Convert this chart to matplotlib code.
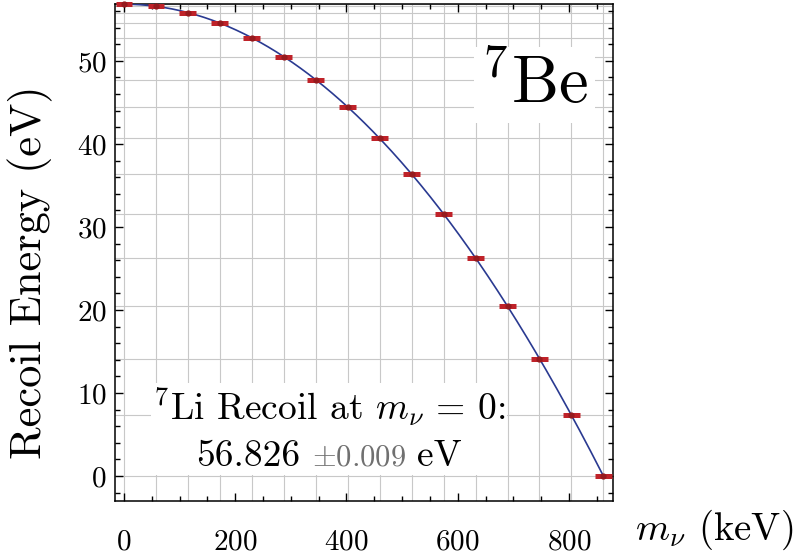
import numpy as np
import matplotlib
matplotlib.use("Agg")
import matplotlib.pyplot as plt
from matplotlib.ticker import MultipleLocator
from matplotlib.offsetbox import TextArea, HPacker, VPacker, AnchoredOffsetbox

plt.rcParams["font.family"] = "serif"
plt.rcParams["font.serif"] = ["cmr10"]
plt.rcParams["mathtext.fontset"] = "cm"
plt.rcParams["axes.formatter.use_mathtext"] = True

# neutrino mass scan (keV) and 7Li recoil energy (eV)
m_nu = [0.0, 57.5, 114.9, 172.4, 229.8, 287.3, 344.7, 402.2,
        459.6, 517.1, 574.5, 632.0, 689.4, 746.9, 804.3, 861.8]
recoil = [56.83, 56.57, 55.82, 54.55, 52.79, 50.51, 47.73, 44.45,
          40.66, 36.37, 31.57, 26.27, 20.46, 14.14, 7.32, 0.0]
m_err = [15.0] * 16

RED = "#bf2229"
BLUE = "#2a3a91"

fig = plt.figure(figsize=(7.99, 5.59), dpi=100)
ax = fig.add_axes([115 / 799, 1 - 501 / 559, 498 / 799, 497 / 559])

# grid lines sit on the scan points
for x in m_nu:
    ax.axvline(x, color="#c8c8c8", lw=0.8, zorder=0)
for y in recoil:
    ax.axhline(y, color="#c8c8c8", lw=0.8, zorder=0)

# quadratic fit through the scan
coef = np.polyfit(m_nu, recoil, 2)
xs = np.linspace(min(m_nu), max(m_nu), 300)
ax.plot(xs, np.polyval(coef, xs), color=BLUE, lw=1.2, zorder=3)

ax.errorbar(m_nu, recoil, xerr=m_err, fmt="o", ms=3.5, color="#961a1e",
            ecolor=RED, elinewidth=3.6, capsize=0, zorder=4, clip_on=False)

ax.set_xlim(-16, 879)
ax.set_ylim(-3, 56.85)
ax.xaxis.set_major_locator(MultipleLocator(200))
ax.xaxis.set_minor_locator(MultipleLocator(50))
ax.yaxis.set_major_locator(MultipleLocator(10))
ax.yaxis.set_minor_locator(MultipleLocator(2))
ax.tick_params(which="both", direction="in", top=True, right=True, width=1.0)
ax.tick_params(which="major", length=6)
ax.tick_params(which="minor", length=3.5)
ax.tick_params(axis="x", which="major", labelsize=21, pad=20)
ax.tick_params(axis="y", which="major", labelsize=21, pad=6)
for s in ax.spines.values():
    s.set_linewidth(1.1)

fig.text(30 / 799, 1 - 272 / 559, "Recoil Energy (eV)", rotation=90,
         size=32, ha="center", va="center")
fig.text(635 / 799, 1 - 540 / 559, r"$m_\nu$ (keV)", size=28,
         ha="left", va="baseline")

ax.text(481 / 799, 1 - 103 / 559, r"$^{7}$Be", transform=fig.transFigure,
        size=48, ha="left", va="baseline", zorder=5,
        bbox=dict(facecolor="white", edgecolor="none", pad=5))

# result box
line1 = TextArea(r"$^{7}$Li Recoil at $m_\nu$ = 0:", textprops=dict(size=27))
val = TextArea("56.826", textprops=dict(size=27))
err = TextArea(r"$\pm$0.009", textprops=dict(size=22, color="#707070"))
unit = TextArea("eV", textprops=dict(size=27))
line2 = HPacker(children=[val, err, unit], align="baseline", pad=0, sep=8)
stack = VPacker(children=[line1, line2], align="center", pad=0, sep=8)
box = AnchoredOffsetbox(loc="center", child=stack, pad=0.15, borderpad=0,
                        frameon=True, bbox_to_anchor=(329 / 799, 1 - 429 / 559),
                        bbox_transform=fig.transFigure)
box.patch.set_edgecolor("none")
box.patch.set_facecolor("white")
box.set_zorder(5)
ax.add_artist(box)

fig.savefig("out.png", dpi=100)
